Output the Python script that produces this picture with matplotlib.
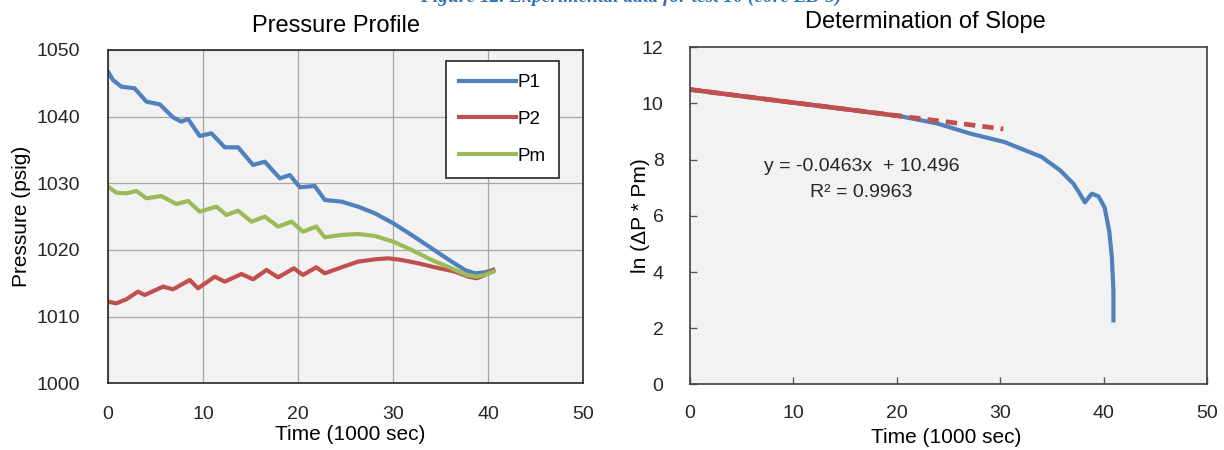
import matplotlib
matplotlib.use("Agg")
import matplotlib.pyplot as plt

plt.rcParams["font.family"] = ["Liberation Sans", "DejaVu Sans"]

# ---- Pressure Profile data (time in 1000 sec, pressure in psig)
p1_t = [0, 0.53, 1.4, 2.81, 4.04, 5.44, 6.84, 7.72, 8.42, 9.65, 10.88, 12.28, 13.68,
        15.26, 16.49, 18.07, 19.12, 20.18, 21.75, 22.8, 24.56, 26.3, 28.07, 30.0,
        31.93, 34.04, 36.14, 37.54, 38.6, 39.65, 40.5]
p1 = [1046.75, 1045.5, 1044.5, 1044.25, 1042.25, 1041.85, 1039.9, 1039.25, 1039.65,
      1037.1, 1037.5, 1035.4, 1035.4, 1032.75, 1033.25, 1030.75, 1031.25, 1029.4,
      1029.6, 1027.5, 1027.25, 1026.5, 1025.5, 1024.0, 1022.25, 1020.25, 1018.25,
      1017.0, 1016.5, 1016.65, 1017.0]

p2_t = [0, 0.88, 1.93, 3.16, 3.86, 5.79, 6.84, 8.6, 9.47, 11.23, 12.28, 14.04, 15.26,
        16.67, 17.89, 19.55, 20.5, 21.9, 22.8, 24.56, 26.3, 28.07, 29.47, 30.88,
        32.63, 34.39, 36.49, 37.9, 38.77, 39.65, 40.5]
p2 = [1012.25, 1012.0, 1012.6, 1013.75, 1013.25, 1014.5, 1014.1, 1015.5, 1014.25,
      1016.0, 1015.25, 1016.4, 1015.6, 1017.0, 1015.9, 1017.25, 1016.25, 1017.4,
      1016.5, 1017.4, 1018.25, 1018.6, 1018.75, 1018.5, 1018.0, 1017.4, 1016.75,
      1016.0, 1015.75, 1016.25, 1017.0]

pm_t = [0, 0.88, 1.93, 2.98, 4.04, 5.61, 7.19, 8.42, 9.65, 11.4, 12.46, 13.68, 15.09,
        16.49, 17.89, 19.3, 20.5, 21.9, 22.8, 24.56, 26.3, 28.07, 30.0, 31.93, 34.04,
        36.14, 37.72, 38.77, 39.65, 40.5]
pm = [1029.5, 1028.6, 1028.5, 1028.85, 1027.75, 1028.1, 1026.9, 1027.35, 1025.75,
      1026.5, 1025.25, 1025.9, 1024.25, 1025.0, 1023.5, 1024.25, 1022.75, 1023.5,
      1021.9, 1022.25, 1022.4, 1022.1, 1021.25, 1020.0, 1018.5, 1017.25, 1016.25,
      1016.0, 1016.25, 1016.75]

# ---- Determination of Slope data
ln_t = [0, 5, 10, 15, 20.3, 23.9, 27.1, 30.4, 34.0, 35.8, 37.07, 37.6, 38.2, 38.85,
        39.5, 40.1, 40.55, 40.8, 40.95, 40.95]
ln_v = [10.50, 10.26, 10.03, 9.80, 9.55, 9.29, 8.93, 8.63, 8.1, 7.62, 7.15, 6.85,
        6.48, 6.79, 6.7, 6.3, 5.45, 4.54, 3.35, 2.28]
fit_t = [0, 5, 10, 15, 20.3]
fit_v = [10.50, 10.26, 10.03, 9.80, 9.55]
slope, intercept, r2 = -0.0463, 10.496, 0.9963
trend_t = [0, 30.3]

BLUE = "#4f81bd"
RED = "#c0504d"
GREEN = "#9bbb59"
BG = "#f2f2f2"

fig = plt.figure(figsize=(12.24, 4.5), dpi=100)

fig.text(0.515, 1.005, "Figure 12. Experimental data for test 10 (core LB-5)",
         ha="center", va="center", family="Liberation Serif", style="italic",
         weight="bold", color="#2e74b5", fontsize=14)

# left chart
ax = fig.add_axes([0.0882, 0.1482, 0.3885, 0.7407])
ax.set_facecolor(BG)
ax.plot(p1_t, p1, color=BLUE, lw=3.0, label="P1", solid_joinstyle="round")
ax.plot(p2_t, p2, color=RED, lw=3.0, label="P2", solid_joinstyle="round")
ax.plot(pm_t, pm, color=GREEN, lw=3.0, label="Pm", solid_joinstyle="round")
ax.set_xlim(0, 50)
ax.set_ylim(1000, 1050)
ax.set_xticks(range(0, 51, 10))
ax.set_yticks(range(1000, 1051, 10))
ax.grid(True, color="#a6a6a6", lw=0.9)
ax.set_axisbelow(True)
ax.tick_params(length=0, labelsize=14, pad=16, colors="#262626")
ax.tick_params(axis="y", pad=20)
for s in ax.spines.values():
    s.set_color("#262626")
    s.set_linewidth(1.2)
ax.set_title("Pressure Profile", fontsize=17, x=0.479, pad=13)
ax.set_xlabel("Time (1000 sec)", fontsize=15, labelpad=2, x=0.51)
ax.set_ylabel("Pressure (psig)", fontsize=15, labelpad=4)
leg = ax.legend(loc="upper right", bbox_to_anchor=(0.948, 0.967), fontsize=13.5,
                handlelength=3.0, handletextpad=0.1, labelspacing=1.05,
                borderpad=0.7, borderaxespad=0, fancybox=False, framealpha=1)
leg.get_frame().set_edgecolor("#262626")
leg.get_frame().set_linewidth(1.2)

# right chart
ax2 = fig.add_axes([0.5637, 0.1456, 0.4224, 0.7493])
ax2.set_facecolor(BG)
ax2.plot(ln_t, ln_v, color=BLUE, lw=3.0, solid_joinstyle="round")
ax2.plot(fit_t, fit_v, color=RED, lw=3.2)
ax2.plot(trend_t, [intercept + slope * t for t in trend_t], color=RED, lw=3.4,
         ls=(0, (2.4, 1.5)))
ax2.set_xlim(0, 50)
ax2.set_ylim(0, 12)
ax2.set_xticks(range(0, 51, 10))
ax2.set_yticks(range(0, 13, 2))
ax2.tick_params(direction="in", length=5, width=1, color="#595959",
                labelsize=14, labelcolor="#262626")
ax2.tick_params(axis="x", pad=15)
ax2.tick_params(axis="y", pad=19)
for s in ax2.spines.values():
    s.set_color("#404040")
    s.set_linewidth(1.2)
ax2.set_title("Determination of Slope", fontsize=17, x=0.456, pad=14)
ax2.set_xlabel("Time (1000 sec)", fontsize=15, labelpad=4, x=0.495)
ax2.set_ylabel("ln (\u0394P * Pm)", fontsize=15, labelpad=-6)
ax2.text(16.6, 7.74, f"y = {slope}x  + {intercept}", fontsize=14,
         ha="center", va="center", color="#262626")
ax2.text(16.6, 6.85, f"R\u00b2 = {r2}", fontsize=14, ha="center", va="center",
         color="#262626")

fig.savefig("out.png", dpi=100)
